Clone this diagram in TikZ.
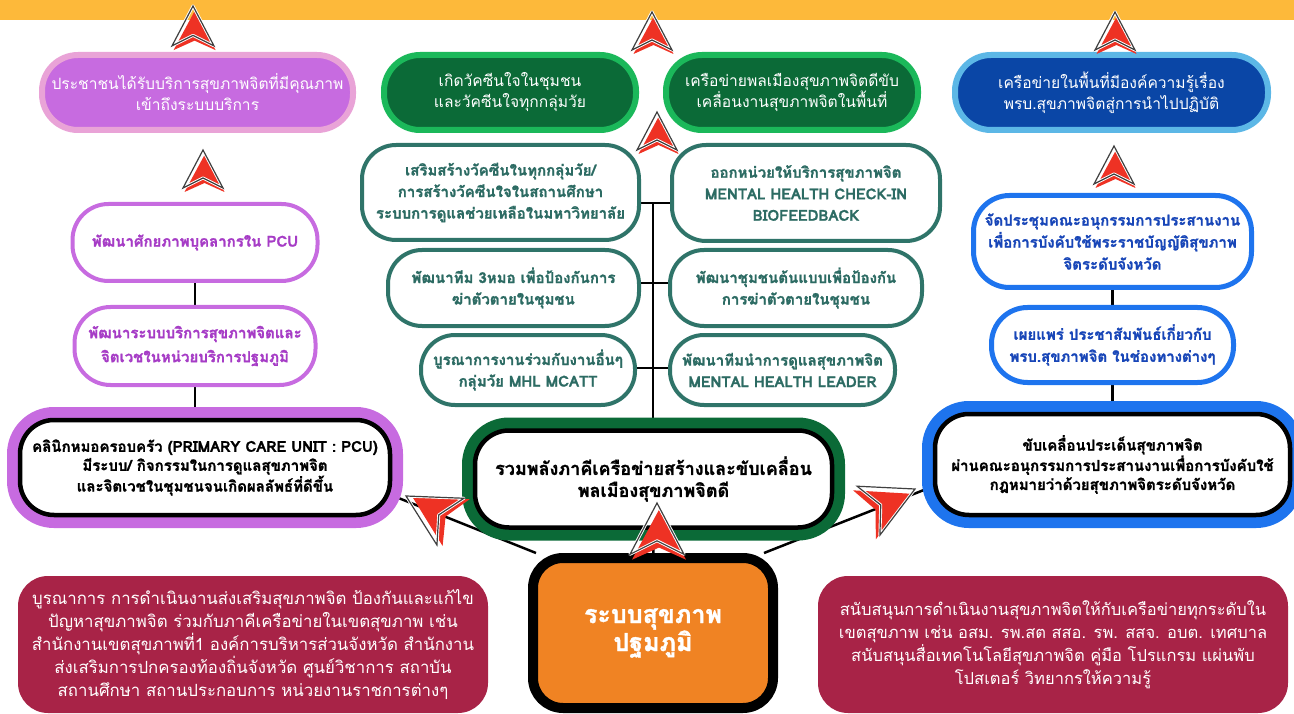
\documentclass[tikz,border=0pt]{standalone}
\usepackage{fontspec}
\setmainfont[Script=Thai, BoldFeatures={FakeBold=1.3}]{Loma}
\usetikzlibrary{backgrounds}
\definecolor{bandorange}{HTML}{FDB93A}
\definecolor{pinkfill}{HTML}{C76BE0}
\definecolor{pinkline}{HTML}{E9A3D7}
\definecolor{goalgreen}{HTML}{0B6A37}
\definecolor{goalgreenline}{HTML}{1BB85A}
\definecolor{goalblue}{HTML}{0A46A6}
\definecolor{goalblueline}{HTML}{5CB7E6}
\definecolor{pcuviolet}{HTML}{C76BE0}
\definecolor{pcutext}{HTML}{A63CC6}
\definecolor{tealline}{HTML}{2F7469}
\definecolor{tealtext}{HTML}{2C6B63}
\definecolor{lawblue}{HTML}{1E74EE}
\definecolor{lawtext}{HTML}{1846B8}
\definecolor{coreorange}{HTML}{F08323}
\definecolor{supportred}{HTML}{A82347}
\definecolor{tipred}{HTML}{EE3224}
\definecolor{tipgray}{HTML}{404040}
\begin{document}
\begin{tikzpicture}[x=1pt, y=-1pt,
        goal/.style={rectangle, rounded corners=36pt, line width=6pt, minimum height=75pt, inner sep=0pt, align=center, text=white, font=\fontsize{15.6}{21}\selectfont},
        pcustep/.style={rectangle, rounded corners=36pt, draw=pcuviolet, line width=4pt, fill=white, minimum height=77pt, inner sep=0pt, align=center, text=pcutext, font=\bfseries\fontsize{15}{24}\selectfont},
        tealbox/.style={rectangle, rounded corners=34pt, draw=tealline, line width=4pt, fill=white, inner sep=0pt, align=center, text=tealtext, font=\bfseries\fontsize{15}{21.5}\selectfont},
        lawstep/.style={rectangle, rounded corners=36pt, draw=lawblue, line width=5pt, fill=white, inner sep=0pt, align=center, text=lawtext, font=\bfseries\fontsize{15}{22}\selectfont},
        framed/.style={rectangle, rounded corners=34pt, draw=black, line width=4.5pt, fill=white, inner sep=0pt, align=center, font=\bfseries\fontsize{15}{19}\selectfont, preaction={draw=#1, line width=26pt}},
        support/.style={rectangle, rounded corners=30pt, fill=supportred, text=white, inner sep=0pt, align=center, minimum width=470pt, minimum height=137pt, font=\fontsize{16.8}{23}\selectfont},
        link/.style={draw=black, line width=2.5pt},
        navtip/.pic={
            \fill[tipred] (1.5,5) -- (-18.5,42) -- (1.5,33) -- (21.5,42) -- cycle;
            \draw[white, line width=3pt, line join=round] (0,0) -- (-20,38) -- (0,28) -- (20,38) -- cycle;
            \draw[tipgray, line width=1.2pt] (0,0) -- (-20,38) -- (0,28) -- (20,38) -- cycle;
        }
    ]
    \useasboundingbox (0,0) rectangle (1294,714);
    \clip (0,0) rectangle (1294,714);
    \fill[bandorange] (0,0) rectangle (1294,20);

    % goals
    \node[goal, fill=pinkfill, draw=pinkline, minimum width=311pt] (popgoal) at (197.5,92.5) {ประชาชนได้รับบริการสุขภาพจิตที่มีคุณภาพ\\เข้าถึงระบบบริการ};
    \node[goal, fill=goalgreen, draw=goalgreenline, minimum width=252pt] (vaccgoal) at (510,92.5) {เกิดวัคซีนใจในชุมชน\\และวัคซีนใจทุกกลุ่มวัย};
    \node[goal, fill=goalgreen, draw=goalgreenline, minimum width=252pt] (netgoal) at (792,92.5) {เครือข่ายพลเมืองสุขภาพจิตดีขับ\\เคลื่อนงานสุขภาพจิตในพื้นที่};
    \node[goal, fill=goalblue, draw=goalblueline, minimum width=313pt] (lawgoal) at (1111.5,92.5) {เครือข่ายในพื้นที่มีองค์ความรู้เรื่อง\\พรบ.สุขภาพจิตสู่การนำไปปฏิบัติ};

    % primary care column
    \node[pcustep, minimum width=245pt] (pcuA) at (195,242.5) {พัฒนาศักยภาพบุคลากรใน PCU};
    \node[pcustep, minimum width=241pt, minimum height=78pt] (pcuB) at (195,346) {พัฒนาระบบบริการสุขภาพจิตและ\\จิตเวชในหน่วยบริการปฐมภูมิ};
    \node[framed=pcuviolet, minimum width=370pt, minimum height=95pt] (pcu) at (205,467.5) {คลินิกหมอครอบครัว (PRIMARY CARE UNIT : PCU)\\มีระบบ/ กิจกรรมในการดูแลสุขภาพจิต\\และจิตเวชในชุมชนจนเกิดผลลัพธ์ที่ดีขึ้น};

    % network column
    \node[tealbox, minimum width=277pt, minimum height=95pt] (tA) at (500.5,192.5) {เสริมสร้างวัคซีนในทุกกลุ่มวัย/\\การสร้างวัคซีนใจในสถานศึกษา\\ระบบการดูแลช่วยเหลือในมหาวิทยาลัย};
    \node[tealbox, minimum width=268pt, minimum height=96pt] (tB) at (806,193) {ออกหน่วยให้บริการสุขภาพจิต\\MENTAL HEALTH CHECK-IN\\BIOFEEDBACK};
    \node[tealbox, minimum width=251pt, minimum height=76pt] (tC) at (513.5,288) {พัฒนาทีม 3หมอ เพื่อป้องกันการ\\ฆ่าตัวตายในชุมชน};
    \node[tealbox, minimum width=252pt, minimum height=76pt] (tD) at (796,288) {พัฒนาชุมชนต้นแบบเพื่อป้องกัน\\การฆ่าตัวตายในชุมชน};
    \node[tealbox, minimum width=214pt, minimum height=70pt] (tE) at (528,370) {บูรณาการงานร่วมกับงานอื่นๆ\\กลุ่มวัย MHL MCATT};
    \node[tealbox, minimum width=225pt, minimum height=70pt] (tF) at (782.5,370) {พัฒนาทีมนำการดูแลสุขภาพจิต\\MENTAL HEALTH LEADER};
    \node[framed=goalgreen, minimum width=357pt, minimum height=97pt, font=\bfseries\fontsize{18}{22}\selectfont] (hub) at (653.5,479) {รวมพลังภาคีเครือข่ายสร้างและขับเคลื่อน\\พลเมืองสุขภาพจิตดี};

    % law column
    \node[lawstep, minimum width=278pt, minimum height=92pt] (lawA) at (1112.5,241.5) {จัดประชุมคณะอนุกรรมการประสานงาน\\เพื่อการบังคับใช้พระราชบัญญัติสุขภาพ\\จิตระดับจังหวัด};
    \node[lawstep, minimum width=242pt, minimum height=75pt] (lawB) at (1112.5,345) {เผยแพร่ ประชาสัมพันธ์เกี่ยวกับ\\พรบ.สุขภาพจิต ในช่องทางต่างๆ};
    \node[framed=lawblue, minimum width=355pt, minimum height=101pt] (law) at (1112.5,464.5) {ขับเคลื่อนประเด็นสุขภาพจิต\\ผ่านคณะอนุกรรมการประสานงานเพื่อการบังคับใช้\\กฎหมายว่าด้วยสุขภาพจิตระดับจังหวัด};

    % base
    \node[rectangle, rounded corners=30pt, fill=coreorange, draw=black, line width=10pt, minimum width=240pt, minimum height=150pt, inner sep=0pt, align=center, text=white, font=\bfseries\fontsize{25}{28}\selectfont] (core) at (653,633) {ระบบสุขภาพ\\ปฐมภูมิ};
    \node[support] (joint) at (253,644.5) {บูรณาการ การดำเนินงานส่งเสริมสุขภาพจิต ป้องกันและแก้ไข\\ปัญหาสุขภาพจิต ร่วมกับภาคีเครือข่ายในเขตสุขภาพ เช่น\\สำนักงานเขตสุขภาพที่1 องค์การบริหารส่วนจังหวัด สำนักงาน\\ส่งเสริมการปกครองท้องถิ่นจังหวัด ศูนย์วิชาการ สถาบัน\\สถานศึกษา สถานประกอบการ หน่วยงานราชการต่างๆ};
    \node[support, font=\fontsize{16.5}{23}\selectfont] (aid) at (1053,644.5) {สนับสนุนการดำเนินงานสุขภาพจิตให้กับเครือข่ายทุกระดับใน\\เขตสุขภาพ เช่น อสม. รพ.สต สสอ. รพ. สสจ. อบต. เทศบาล\\สนับสนุนสื่อเทคโนโลยีสุขภาพจิต คู่มือ โปรแกรม แผ่นพับ\\โปสเตอร์ วิทยากรให้ความรู้};

    \begin{pgfonlayer}{background}
        \draw[link] (pcuA) -- (pcuB);
        \draw[link] (pcuB.south) -- (pcuB.south |- pcu.north);
        \draw[link] (lawA) -- (lawB);
        \draw[link] (lawB) -- (law);
        \coordinate (fork) at (653,203);
        \draw[link] (fork) -- (fork |- hub.north);
        \draw[link] ([yshift=-10.5pt]tA.east) -- ([yshift=-10pt]tB.west);
        \draw[link] ([yshift=5pt]tC.east) -- ([yshift=5pt]tD.west);
        \draw[link] ([yshift=2pt]tE.east) -- ([yshift=2pt]tF.west);
        \draw[link] (core) -- (hub);
        \draw[link] ([xshift=8pt]core.north west) -- ([yshift=-28pt]pcu.east);
        \draw[link] ([xshift=-14pt]core.north east) -- ([yshift=-22pt]law.west);
    \end{pgfonlayer}

    % arrow tips
    \pic[scale=1.05] at (193,6) {navtip};
    \pic at (652,12) {navtip};
    \pic at (1115,12) {navtip};
    \pic at (203,150) {navtip};
    \pic at (657,112) {navtip};
    \pic at (1114,146) {navtip};
    \pic[scale=1.35] at (657,503) {navtip};
    \pic[scale=1.35, rotate=60] at (406,496) {navtip};
    \pic[scale=1.35, rotate=-65] at (915,489) {navtip};
\end{tikzpicture}
\end{document}
